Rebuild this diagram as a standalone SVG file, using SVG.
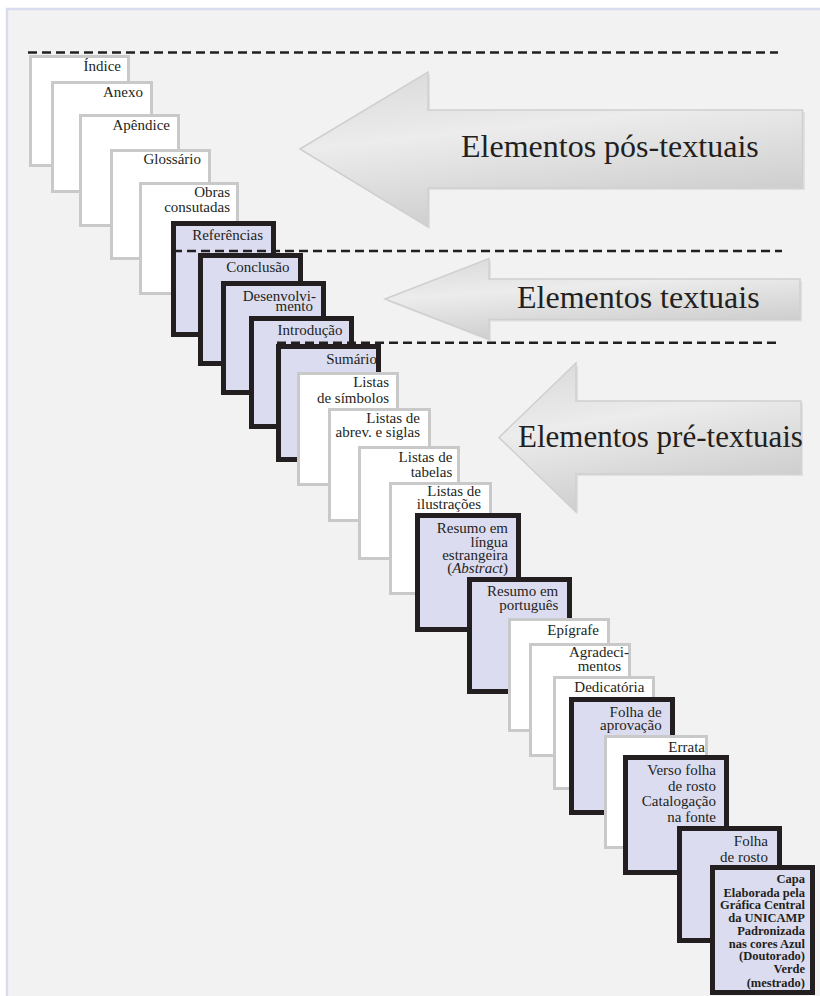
<svg xmlns="http://www.w3.org/2000/svg" width="820" height="996" viewBox="0 0 820 996">
<defs>
<style>
.bg{fill:#f2f2f2;stroke:#d9dbef;stroke-width:2.5}
.w{fill:#ffffff;stroke:#c9c9c9;stroke-width:3}
.d{fill:#dcdcf0;stroke:#231f20;stroke-width:5}
.t{font-family:"Liberation Serif","Times New Roman",serif;font-size:15px;fill:#231f20;text-anchor:end}
.tb{font-family:"Liberation Serif","Times New Roman",serif;font-size:12.5px;font-weight:bold;fill:#231f20;text-anchor:end}
.big{font-family:"Liberation Serif","Times New Roman",serif;font-size:32px;fill:#231f20}
.arr{fill:url(#ag);stroke:#cfcfcf;stroke-width:1.5}
.sh{fill:#e0e0e0}
.dash{fill:none;stroke:#231f20;stroke-width:2.6;stroke-dasharray:9 5}
</style>
<linearGradient id="ag" x1="0" y1="0" x2="0.35" y2="1">
<stop offset="0" stop-color="#d8d8d8"/>
<stop offset="0.45" stop-color="#ececec"/>
<stop offset="1" stop-color="#cdcdcd"/>
</linearGradient>
</defs>
<rect class="bg" x="7" y="9" width="830" height="1000"/>

<g id="arrow-pos">
<path class="sh" d="M302,151 L430,74 L430,112 L805,112 L805,190 L430,190 L430,229 Z"/>
<path class="arr" d="M300,149 L428,72 L428,110 L802.5,110 L802.5,188 L428,188 L428,227 Z"/>
<text class="big" x="461" y="157">Elementos pós-textuais</text>
</g>
<g id="arrow-textuais">
<path class="sh" d="M387,301 L491,260.5 L491,281 L802,281 L802,321.5 L491,321.5 L491,341.5 Z"/>
<path class="arr" d="M385,299 L489,258.5 L489,279 L800,279 L800,319.5 L489,319.5 L489,339.5 Z"/>
<text class="big" x="517" y="308">Elementos textuais</text>
</g>
<g id="arrow-pre">
<path class="sh" d="M501,439.5 L578,365 L578,403 L803,403 L803,476 L578,476 L578,514 Z"/>
<path class="arr" d="M499,437.5 L576,363 L576,401 L801,401 L801,474 L576,474 L576,512 Z"/>
<text class="big" x="518" y="447" style="font-size:31px">Elementos pré-textuais</text>
</g>

<g id="n1"><rect class="w" x="30.5" y="56.5" width="98" height="109"/><text class="t" x="121" y="71">Índice</text></g>
<g id="n2"><rect class="w" x="52.5" y="82.5" width="99" height="109"/><text class="t" x="143" y="96.7">Anexo</text></g>
<g id="n3"><rect class="w" x="80.5" y="115.5" width="98" height="110"/><text class="t" x="170" y="130">Apêndice</text></g>
<g id="n4"><rect class="w" x="111.5" y="150.5" width="98" height="108"/><text class="t" x="201" y="164.3">Glossário</text></g>
<g id="n5"><rect class="w" x="140.5" y="183.5" width="97" height="110"/><text class="t" x="230" y="196.7">Obras</text><text class="t" x="230" y="211.7">consutadas</text></g>
<g id="n6"><rect class="d" x="173.5" y="223.5" width="100" height="111"/><text class="t" x="263" y="240">Referências</text></g>
<g id="n7"><rect class="d" x="200.5" y="255.5" width="100" height="108"/><text class="t" x="289.5" y="271.7">Conclusão</text></g>
<g id="n8"><rect class="d" x="223.5" y="283.5" width="100" height="109"/><text class="t" x="316" y="300.7">Desenvolvi-</text><text class="t" x="313" y="311">mento</text></g>
<g id="n9"><rect class="d" x="251.5" y="318.5" width="100" height="108"/><text class="t" x="342.5" y="335">Introdução</text></g>
<g id="n10"><rect class="d" x="278.5" y="346.5" width="100" height="113"/><text class="t" x="377" y="364">Sumário</text></g>
<g id="n11"><rect class="w" x="298.5" y="373.5" width="99" height="111"/><text class="t" x="389" y="386.7">Listas</text><text class="t" x="389" y="402.7">de símbolos</text></g>
<g id="n12"><rect class="w" x="329.5" y="409.5" width="100" height="111"/><text class="t" x="420" y="423.3">Listas de</text><text class="t" x="420" y="437">abrev. e siglas</text></g>
<g id="n13"><rect class="w" x="359.5" y="447.5" width="99" height="111"/><text class="t" x="452.3" y="461.7">Listas de</text><text class="t" x="452.3" y="476.7">tabelas</text></g>
<g id="n14"><rect class="w" x="390.5" y="483.5" width="100" height="110"/><text class="t" x="481" y="496">Listas de</text><text class="t" x="481" y="508.5">ilustrações</text></g>
<g id="n15"><rect class="d" x="417.5" y="515.5" width="101" height="114"/><text class="t" x="508" y="532.7">Resumo em</text><text class="t" x="508" y="546.5">língua</text><text class="t" x="508" y="560">estrangeira</text><text class="t" x="508" y="573">(<tspan font-style="italic">Abstract</tspan>)</text></g>
<g id="n16"><rect class="d" x="469.5" y="579.5" width="100" height="112"/><text class="t" x="558.3" y="595.7">Resumo em</text><text class="t" x="558.3" y="610">português</text></g>
<g id="n17"><rect class="w" x="509.5" y="619.5" width="99" height="111"/><text class="t" x="599" y="635">Epígrafe</text></g>
<g id="n18"><rect class="w" x="530.5" y="644.5" width="99" height="111"/><text class="t" x="629" y="657">Agradeci-</text><text class="t" x="621" y="671">mentos</text></g>
<g id="n19"><rect class="w" x="554.5" y="677.5" width="99" height="111"/><text class="t" x="644.3" y="691.7">Dedicatória</text></g>
<g id="n20"><rect class="d" x="571.5" y="699.5" width="101" height="113"/><text class="t" x="661.7" y="716.7">Folha de</text><text class="t" x="661.7" y="729.5">aprovação</text></g>
<g id="n21"><rect class="w" x="605.5" y="736.5" width="101" height="111"/><text class="t" x="705" y="751.7">Errata</text></g>
<g id="n22"><rect class="d" x="625.5" y="757.5" width="101" height="115"/><text class="t" x="716" y="775">Verso folha</text><text class="t" x="716" y="790.7">de rosto</text><text class="t" x="716" y="806">Catalogação</text><text class="t" x="716" y="821.7">na fonte</text></g>
<g id="n23"><rect class="d" x="679.5" y="828.5" width="100" height="112"/><text class="t" x="768" y="846">Folha</text><text class="t" x="768" y="861.7">de rosto</text></g>
<g id="n24"><rect class="d" x="712.5" y="867.5" width="100" height="125"/><text class="tb" x="805" y="882.7">Capa</text><text class="tb" x="805" y="896.7">Elaborada pela</text><text class="tb" x="805" y="909.3">Gráfica Central</text><text class="tb" x="805" y="921.7">da UNICAMP</text><text class="tb" x="805" y="935">Padronizada</text><text class="tb" x="805" y="947.7">nas cores Azul</text><text class="tb" x="805" y="960">(Doutorado)</text><text class="tb" x="805" y="973.3">Verde</text><text class="tb" x="805" y="986.7">(mestrado)</text></g>

<g id="connectors">
<line class="dash" x1="28" y1="52.5" x2="778" y2="52.5"/>
<line class="dash" x1="173" y1="251" x2="782" y2="251"/>
<line class="dash" x1="277" y1="342.7" x2="780" y2="342.7"/>
</g>
</svg>
